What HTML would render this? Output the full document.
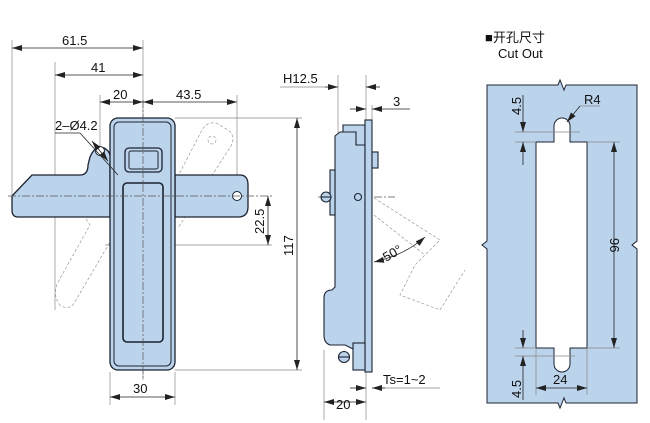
<!DOCTYPE html>
<html><head><meta charset="utf-8"><style>
html,body{margin:0;padding:0;background:#fff;}
svg{display:block;font-family:"Liberation Sans","Noto Sans CJK SC",sans-serif;}
</style></head><body>
<svg width="650" height="423" viewBox="0 0 650 423" xmlns="http://www.w3.org/2000/svg">
<defs>
<marker id="a" viewBox="0 0 10 6" refX="10" refY="3" markerWidth="10" markerHeight="6" orient="auto-start-reverse" markerUnits="userSpaceOnUse"><path d="M0,0L10,3L0,6z" fill="#222"/></marker>
</defs>
<g fill="none" stroke="#888" stroke-width="0.7">
<line x1="12" y1="40" x2="12" y2="195"/>
<line x1="55" y1="62" x2="55" y2="310"/>
<line x1="100" y1="95" x2="100" y2="150"/>
<line x1="237" y1="95" x2="237" y2="190"/>
<line x1="143" y1="40" x2="143" y2="380"/>
<line x1="175" y1="118" x2="302" y2="118"/>
<line x1="175" y1="370" x2="302" y2="370"/>
<line x1="105" y1="245" x2="272" y2="245"/>
<line x1="110" y1="372" x2="110" y2="405"/>
<line x1="175" y1="372" x2="175" y2="405"/>
<line x1="338" y1="75" x2="338" y2="135"/>
<line x1="366" y1="75" x2="366" y2="420"/>
<line x1="372" y1="105" x2="372" y2="120"/>
<line x1="324" y1="350" x2="324" y2="420"/>
<line x1="280" y1="87" x2="325" y2="87"/>
<line x1="380" y1="388" x2="440" y2="388"/>
</g>
<g fill="none" stroke="#999" stroke-width="0.7" stroke-dasharray="3,2">
<path d="M175,182 L202,130 Q208,120 218,124 L228,130 Q236,136 231,146 L178,228"/>
<circle cx="212" cy="140" r="4"/>
<path d="M110,194 L100,190 L80,177 Q72,174 73,186 L76,200 Q80,210 90,225 L58,282 Q52,295 60,305 Q70,312 76,300 L110,242"/>
<circle cx="88" cy="208" r="4"/>
<path d="M374,198 L440,240 L415,265 L400,295 L440,310 L465,270"/>
<path d="M374,215 L425,255"/>
</g>
<g stroke="#1b2330" stroke-width="1.3" fill="#bcd3ec">
<path d="M12,196 L32,175 L80,175 Q88,175 88,165 L90,157 Q95,145 104,148 Q112,152 110,162 L110,217 L18,217 Q12,217 12,210 Z"/>
<path d="M175,175 L240,175 Q248,175 248,185 L248,207 Q248,217 238,217 L175,217 Z"/>
<rect x="110" y="118" width="65" height="252" rx="8"/>
<rect x="114" y="122" width="57" height="244" rx="5" fill="none" stroke-width="1"/>
<rect x="125" y="148" width="37" height="24" rx="4"/>
<rect x="129" y="151" width="29" height="18" rx="2" fill="none" stroke-width="1"/>
<rect x="123" y="183" width="40" height="159" rx="4" fill="none" stroke-width="1.6"/>
<circle cx="100" cy="151" r="4.5" fill="#fff" stroke-width="1"/>
<circle cx="237" cy="196" r="4.5" fill="#fff" stroke-width="1"/>
</g>
<g stroke="#555" stroke-width="0.7" stroke-dasharray="8,2,2,2" fill="none">
<line x1="8" y1="196" x2="272" y2="196"/>
<line x1="143" y1="100" x2="143" y2="380"/>
<line x1="318" y1="197" x2="395" y2="197"/>
<line x1="562" y1="110" x2="562" y2="372"/>
<line x1="525" y1="245" x2="600" y2="245"/>
</g>
<g stroke="#1b2330" stroke-width="1.1" fill="#bcd3ec">
<path d="M343,125 L365,125 L365,147 L356,147 L356,140 L343,140 Z"/>
<path d="M335,136 L340,132 L356,132 L356,145 L365,145 L365,350 L355,350 L345,345 L330,345 Q324,343 324,335 L324,298 Q324,290 332,290 L335,287 Z"/>
<rect x="365" y="120" width="7" height="252"/>
<rect x="372" y="152" width="6" height="16"/>
<rect x="330" y="170" width="5" height="45"/>
<circle cx="326" cy="197" r="5"/>
<line x1="321" y1="197" x2="331" y2="197"/>
<rect x="353" y="343" width="12" height="27"/>
<circle cx="344" cy="357" r="5.5"/>
<line x1="338.5" y1="357" x2="349.5" y2="357"/>
<circle cx="358" cy="197" r="3.5" fill="none"/>
</g>
<path d="M374,262 Q405,255 425,237" fill="none" stroke="#222" stroke-width="0.8" marker-start="url(#a)" marker-end="url(#a)"/>
<g stroke="#1b2330" stroke-width="1" fill="#bcd3ec">
<path d="M487,85 L558,85 L560,80 L564,90 L566,85 L637,85 L637,241 L632,245 L637,249 L637,403 L566,403 L564,398 L560,408 L558,403 L487,403 L487,249 L482,245 L487,241 Z"/>
<path d="M536,142 L554,142 L554,126 A8,8 0 0 1 570,126 L570,142 L587,142 L587,348 L570,348 L570,364 A8,8 0 0 1 554,364 L554,348 L536,348 Z" fill="#fff"/>
</g>
<g fill="none" stroke="#888" stroke-width="0.7">
<line x1="515" y1="132" x2="580" y2="132"/>
<line x1="515" y1="142" x2="536" y2="142"/>
<line x1="587" y1="142" x2="620" y2="142"/>
<line x1="587" y1="348" x2="620" y2="348"/>
<line x1="515" y1="348" x2="536" y2="348"/>
<line x1="515" y1="356" x2="575" y2="356"/>
<line x1="536" y1="348" x2="536" y2="395"/>
<line x1="587" y1="348" x2="587" y2="395"/>
<line x1="580" y1="106" x2="600" y2="106"/>
</g>
<g stroke="#222" stroke-width="0.8" fill="none">
<line x1="12" y1="48" x2="143" y2="48" marker-start="url(#a)" marker-end="url(#a)"/>
<line x1="55" y1="75" x2="143" y2="75" marker-start="url(#a)" marker-end="url(#a)"/>
<line x1="100" y1="102" x2="143" y2="102" marker-start="url(#a)" marker-end="url(#a)"/>
<line x1="143" y1="102" x2="237" y2="102" marker-start="url(#a)" marker-end="url(#a)"/>
<line x1="297" y1="118" x2="297" y2="370" marker-start="url(#a)" marker-end="url(#a)"/>
<line x1="268" y1="196" x2="268" y2="245" marker-start="url(#a)" marker-end="url(#a)"/>
<line x1="110" y1="397" x2="175" y2="397" marker-start="url(#a)" marker-end="url(#a)"/>
<line x1="55" y1="133" x2="80" y2="133"/>
<line x1="80" y1="133" x2="118" y2="175"/>
<line x1="92" y1="141" x2="108" y2="161" marker-start="url(#a)" marker-end="url(#a)"/>
<line x1="325" y1="87" x2="338" y2="87" marker-end="url(#a)"/>
<line x1="380" y1="87" x2="366" y2="87" marker-end="url(#a)"/>
<line x1="350" y1="109" x2="366" y2="109" marker-end="url(#a)"/>
<line x1="410" y1="109" x2="372" y2="109" marker-end="url(#a)"/>
<line x1="350" y1="388" x2="366" y2="388" marker-end="url(#a)"/>
<line x1="385" y1="388" x2="372" y2="388" marker-end="url(#a)"/>
<line x1="324" y1="402" x2="366" y2="402" marker-start="url(#a)" marker-end="url(#a)"/>
<line x1="614" y1="142" x2="614" y2="348" marker-start="url(#a)" marker-end="url(#a)"/>
<line x1="523" y1="95" x2="523" y2="132" marker-end="url(#a)"/>
<line x1="523" y1="165" x2="523" y2="142" marker-end="url(#a)"/>
<line x1="523" y1="330" x2="523" y2="348" marker-end="url(#a)"/>
<line x1="523" y1="400" x2="523" y2="356" marker-end="url(#a)"/>
<line x1="536" y1="388" x2="587" y2="388" marker-start="url(#a)" marker-end="url(#a)"/>
<line x1="580" y1="106" x2="567" y2="122" marker-end="url(#a)"/>
</g>
<g font-size="13" fill="#111">
<text x="62" y="45">61.5</text>
<text x="91" y="72">41</text>
<text x="113" y="99">20</text>
<text x="176" y="99">43.5</text>
<text x="55" y="130">2–Ø4.2</text>
<text x="133" y="393">30</text>
<text transform="translate(293,256) rotate(-90)">117</text>
<text transform="translate(264,234) rotate(-90)">22.5</text>
<text x="283" y="83">H12.5</text>
<text x="393" y="106">3</text>
<text x="383" y="384">Ts=1~2</text>
<text x="336" y="409">20</text>
<text transform="translate(386,262) rotate(-30)">50°</text>
<text x="485" y="42">■开孔尺寸</text>
<text x="498" y="58">Cut Out</text>
<text x="584" y="104">R4</text>
<text transform="translate(610,238) rotate(90)">96</text>
<text transform="translate(521,115) rotate(-90)">4.5</text>
<text transform="translate(521,398) rotate(-90)">4.5</text>
<text x="553" y="384">24</text>
</g>
</svg>
</body></html>
